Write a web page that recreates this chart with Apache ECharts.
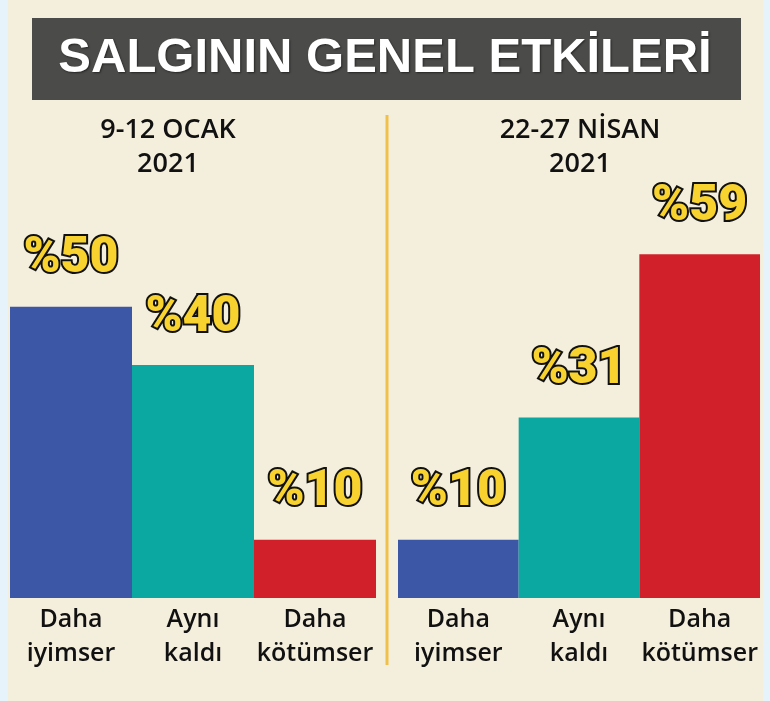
<!DOCTYPE html>
<html><head><meta charset="utf-8">
<script src="https://cdn.jsdelivr.net/npm/echarts@6/dist/echarts.min.js"></script>
<style>html,body{margin:0;padding:0;background:#f4eedc;}#c{width:770px;height:701px;}</style>
</head><body><div id="c"></div>
<script>
const categories = ['Daha\niyimser', 'Aynı\nkaldı', 'Daha\nkötümser'];
const january = [50, 40, 10];
const april = [10, 31, 59];
const periods = ['9-12 OCAK\n2021', '22-27 NİSAN\n2021'];
const barColors = ['#3b57a6', '#0ba7a1', '#d1202a'];
const titleText = 'SALGININ GENEL ETKİLERİ';

const chart = echarts.init(document.getElementById('c'));
const labelStyle = {
  show: true, position: 'top', distance: 22,
  formatter: p => '%' + p.value,
  fontFamily: 'Roboto,"DejaVu Sans Condensed",sans-serif',
  fontWeight: 900, fontSize: 50, color: '#f8d22e',
  textBorderColor: '#111', textBorderWidth: 4
};
function mkData(vals){ return vals.map((v,i)=>({value:v, itemStyle:{color:barColors[i]}})); }
const axisLbl = {
  fontFamily: '"Open Sans","Liberation Sans",sans-serif', fontWeight: 600,
  fontSize: 25, lineHeight: 34, color: '#111', margin: 5, interval: 0
};
chart.setOption({
  backgroundColor: '#f4eedc',
  animation: false,
  title: {
    text: titleText, left: 'center', top: 29,
    textStyle: { fontFamily: '"Liberation Sans",Arial,sans-serif', fontWeight: 'bold', fontSize: 49,
      color: '#ffffff', textShadowColor: 'rgba(0,0,0,0.5)', textShadowBlur: 2, textShadowOffsetX: 1, textShadowOffsetY: 1 }
  },
  graphic: [
    { type: 'rect', z: -1, shape: { x: 0, y: 0, width: 8, height: 701 }, style: { fill: '#e7f3fa' } },
    { type: 'rect', z: -1, shape: { x: 763, y: 0, width: 7, height: 701 }, style: { fill: '#e7f3fa' } },
    { type: 'rect', z: -1, shape: { x: 32, y: 18, width: 709, height: 82 }, style: { fill: '#4b4b49' } },
    { type: 'line', shape: { x1: 387, y1: 115, x2: 387, y2: 665 }, style: { stroke: '#f0c14a', lineWidth: 3 } },
    { type: 'text', x: 168, y: 113, style: { text: periods[0], textAlign: 'center',
      font: '600 27px "Open Sans","Liberation Sans",sans-serif', lineHeight: 34, fill: '#111' } },
    { type: 'text', x: 580, y: 113, style: { text: periods[1], textAlign: 'center',
      font: '600 27px "Open Sans","Liberation Sans",sans-serif', lineHeight: 34, fill: '#111' } }
  ],
  grid: [
    { left: 10, width: 366, top: 132, bottom: 103 },
    { left: 398, width: 362, top: 132, bottom: 103 }
  ],
  xAxis: [0,1].map(i => ({
    type: 'category', gridIndex: i, data: categories,
    axisLine: { show: false }, axisTick: { show: false }, axisLabel: axisLbl
  })),
  yAxis: [0,1].map(i => ({
    type: 'value', gridIndex: i, min: 0, max: 80, show: false, splitLine: { show: false }
  })),
  series: [
    { type: 'bar', xAxisIndex: 0, yAxisIndex: 0, data: mkData(january), barCategoryGap: 0, label: labelStyle },
    { type: 'bar', xAxisIndex: 1, yAxisIndex: 1, data: mkData(april), barCategoryGap: 0, label: labelStyle }
  ]
});
</script></body></html>
